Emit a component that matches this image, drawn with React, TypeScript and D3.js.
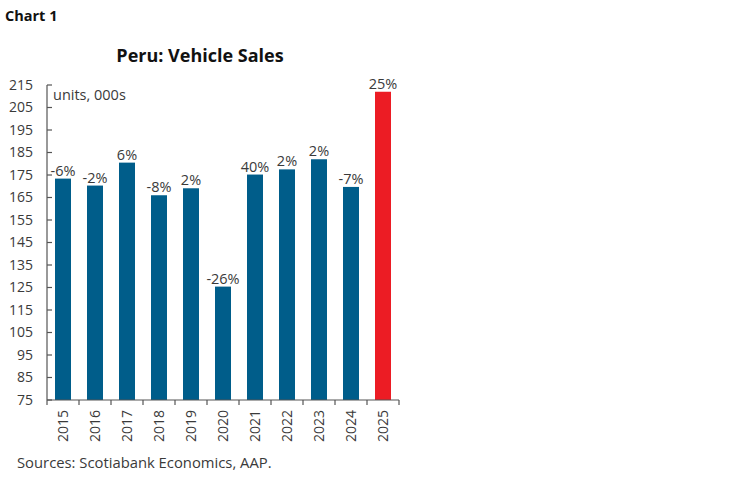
import React from 'react';
import * as d3 from 'd3';

const years = ['2015', '2016', '2017', '2018', '2019', '2020', '2021', '2022', '2023', '2024', '2025'];
const sales = [173.4, 170.3, 180.5, 166, 169.1, 125.4, 175.2, 177.5, 182, 169.7, 212];
const changes = ['-6%', '-2%', '6%', '-8%', '2%', '-26%', '40%', '2%', '2%', '-7%', '25%'];
const yTicks = [75, 85, 95, 105, 115, 125, 135, 145, 155, 165, 175, 185, 195, 205, 215];

const W = 748;
const H = 483;
const FONT = '"Open Sans", "Noto Sans", sans-serif';
const BLUE = '#005d8a';
const RED = '#ec1c24';
const AXIS = '#555';

const App: React.FC = () => {
  const x = d3.scaleBand<string>().domain(years).range([47, 399]).paddingInner(0.5).paddingOuter(0.25);
  const y = d3.scaleLinear().domain([75, 215]).range([400, 85]);
  const step = x.step();
  const bounds = d3.range(years.length + 1).map(i => 47 + i * step);

  return (
    <svg width={W} height={H} style={{ position: 'absolute', left: 0, top: 0, background: '#fff' }} fontFamily={FONT}>
      <text x={5} y={21} fontSize={14.5} fontWeight={700} fill="#111">Chart 1</text>
      <text x={200} y={62} fontSize={18} fontWeight={700} textAnchor="middle" fill="#111">Peru: Vehicle Sales</text>

      {/* bars */}
      {years.map((yr, i) => (
        <rect key={yr} x={x(yr)} y={y(sales[i])} width={x.bandwidth()} height={y(75) - y(sales[i])}
          fill={yr === '2025' ? RED : BLUE} />
      ))}
      {years.map((yr, i) => (
        <text key={'l' + yr} x={(x(yr) ?? 0) + x.bandwidth() / 2} y={y(sales[i]) - 3} fontSize={14.5}
          textAnchor="middle" fill="#3a3a3a">{changes[i]}</text>
      ))}

      {/* y axis */}
      <line x1={47} x2={47} y1={y(215)} y2={y(75)} stroke={AXIS} strokeWidth={1.2} />
      {yTicks.map(t => (
        <g key={t}>
          <line x1={47} x2={52} y1={y(t)} y2={y(t)} stroke={AXIS} strokeWidth={1.2} />
          <text x={33} y={y(t)} dy="0.35em" fontSize={14} textAnchor="end" fill="#3a3a3a">{t}</text>
        </g>
      ))}
      <text x={53} y={100} fontSize={14.5} fill="#3a3a3a">units, 000s</text>

      {/* x axis */}
      <line x1={47} x2={bounds[bounds.length - 1]} y1={400} y2={400} stroke={AXIS} strokeWidth={1.2} />
      {bounds.map((b, i) => (
        <line key={i} x1={b} x2={b} y1={400} y2={405} stroke={AXIS} strokeWidth={1.2} />
      ))}
      {years.map(yr => (
        <text key={'x' + yr} transform={`translate(${(x(yr) ?? 0) + x.bandwidth() / 2},410) rotate(-90)`}
          dy="0.35em" fontSize={14} textAnchor="end" fill="#3a3a3a">{yr}</text>
      ))}

      <text x={17} y={468} fontSize={14.8} fill="#3a3a3a">Sources: Scotiabank Economics, AAP.</text>
    </svg>
  );
};

export default App;
